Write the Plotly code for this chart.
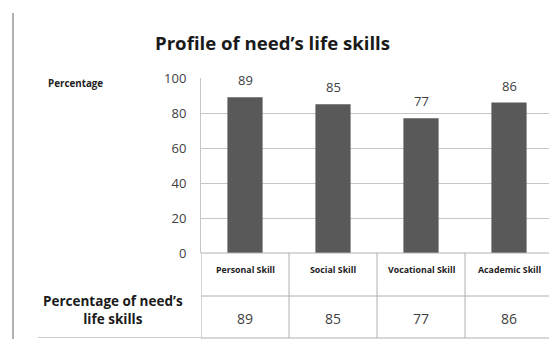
import plotly.graph_objects as go

# chart data
skills = ["Personal Skill", "Social Skill", "Vocational Skill", "Academic Skill"]
percentages = [89, 85, 77, 86]
y_ticks = [0, 20, 40, 60, 80, 100]
row_label = "Percentage of need’s<br>life skills"

# the page body adds an 8px margin, so the figure is 8px smaller each way
OFF = 8
W, H = 557 - OFF, 339 - OFF
FONT = "Open Sans"
GRID = "#c6c6c6"
LINE = "#b0b0b0"
TXT = "#404040"


def px_x(x):
    return (x - OFF) / W


def px_y(y):
    return 1 - (y - OFF) / H


fig = go.Figure()

fig.add_trace(go.Bar(
    x=skills, y=percentages,
    marker=dict(color="#595959", line=dict(width=0)),
    width=0.4, showlegend=False, hoverinfo="skip",
))

# value labels above bars
for s, v in zip(skills, percentages):
    fig.add_annotation(x=s, y=v, xref="x", yref="y", text=str(v),
                       showarrow=False, yanchor="bottom", yshift=6,
                       font=dict(family=FONT, size=13, color=TXT))

# data table under the chart: header row (skill names) and value row
for i, (s, v) in enumerate(zip(skills, percentages)):
    fig.add_annotation(x=s, y=px_y(270), xref="x", yref="paper",
                       text="<b>%s</b>" % s, showarrow=False,
                       xanchor="center", yanchor="middle",
                       font=dict(family=FONT, size=8.8, color="#222222"))
    fig.add_annotation(x=s, y=px_y(318), xref="x", yref="paper",
                       text=str(v), showarrow=False,
                       xanchor="center", yanchor="middle",
                       font=dict(family=FONT, size=14, color=TXT))
    # column borders
    fig.add_shape(type="line", xref="x", yref="paper",
                  x0=i - 0.5, x1=i - 0.5, y0=px_y(253), y1=px_y(338),
                  line=dict(color=LINE, width=1))
fig.add_shape(type="line", xref="x", yref="paper",
              x0=len(skills) - 0.5, x1=len(skills) - 0.5,
              y0=px_y(253), y1=px_y(338), line=dict(color=LINE, width=1))
for yy in (253, 296, 338):
    fig.add_shape(type="line", xref="x", yref="paper",
                  x0=-0.5, x1=len(skills) - 0.5, y0=px_y(yy), y1=px_y(yy),
                  line=dict(color=LINE, width=1))

fig.update_layout(
    width=W, height=H,
    margin=dict(l=0, r=0, t=0, b=0, autoexpand=False),
    paper_bgcolor="white", plot_bgcolor="white",
    xaxis=dict(domain=[px_x(201), px_x(553)], range=[-0.5, len(skills) - 0.5],
               showticklabels=False, showgrid=False, zeroline=False,
               showline=False, fixedrange=True),
    yaxis=dict(domain=[px_y(253), px_y(78)], range=[0, 100],
               tickvals=y_ticks, showgrid=True, gridcolor=GRID, gridwidth=1,
               zeroline=False, showline=True, linecolor=GRID, linewidth=1,
               ticks="", ticklabelstandoff=11,
               tickfont=dict(family=FONT, size=13, color=TXT)),
    font=dict(family=FONT),
)

fig.add_annotation(x=px_x(272), y=px_y(42), xref="paper", yref="paper",
                   xanchor="center", yanchor="middle",
                   text="<b>Profile of need’s life skills</b>", showarrow=False,
                   font=dict(family=FONT, size=18.6, color="#1a1a1a"))
fig.add_annotation(x=px_x(75), y=px_y(84), xref="paper", yref="paper",
                   xanchor="center", yanchor="middle",
                   text="<b>Percentage</b>", showarrow=False,
                   font=dict(family=FONT, size=9.8, color="#222222"))
fig.add_annotation(x=px_x(113), y=px_y(310), xref="paper", yref="paper",
                   xanchor="center", yanchor="middle",
                   text="<b>%s</b>" % row_label, showarrow=False,
                   font=dict(family=FONT, size=13.5, color="#1a1a1a"))

# outer frame lines
fig.add_shape(type="line", xref="paper", yref="paper",
              x0=px_x(13), x1=px_x(13), y0=px_y(13), y1=px_y(339),
              line=dict(color="#999999", width=1.5))
fig.add_shape(type="line", xref="paper", yref="paper",
              x0=px_x(38), x1=px_x(201), y0=px_y(337.5), y1=px_y(337.5),
              line=dict(color="#cccccc", width=1))

fig.write_html("out.html")
